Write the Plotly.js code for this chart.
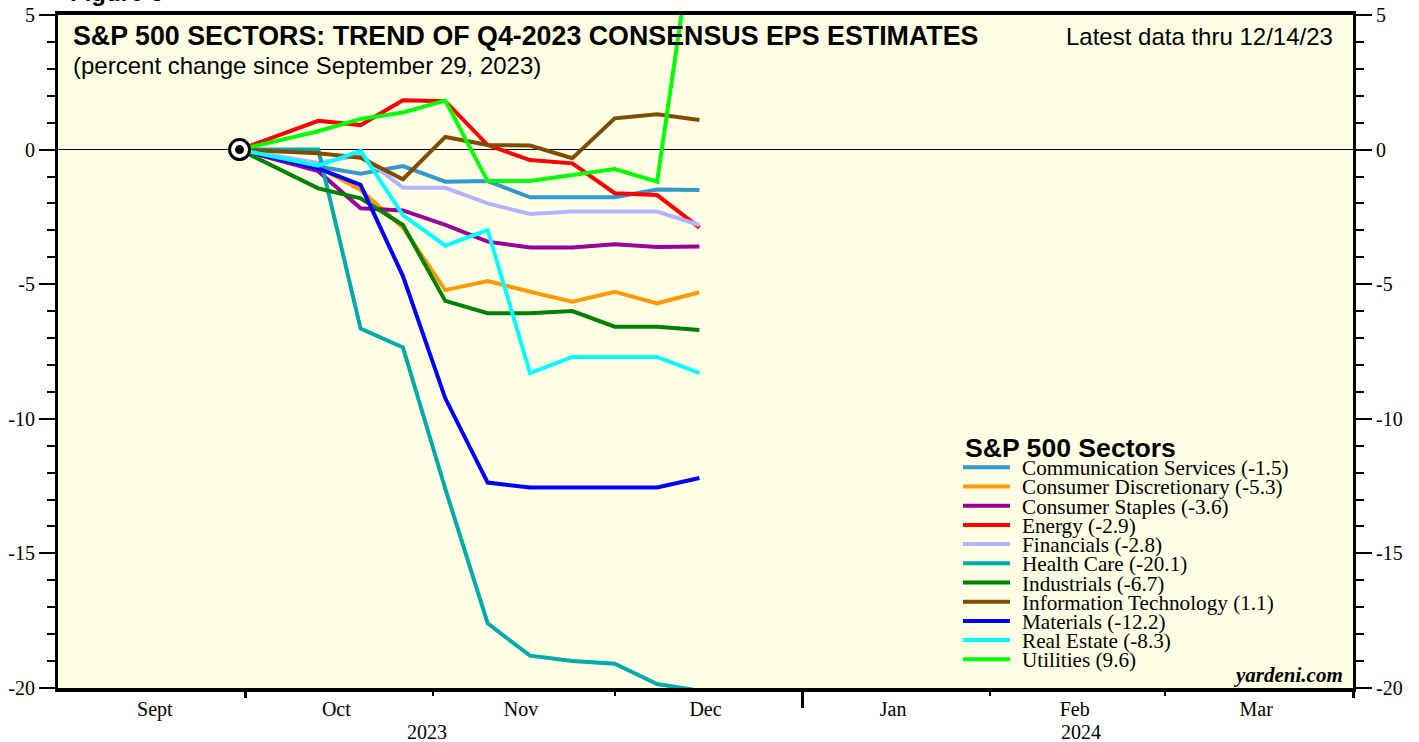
<!DOCTYPE html>
<html><head><meta charset="utf-8">
<script src="https://cdn.plot.ly/plotly-3.0.1.min.js"></script>
<style>html,body{margin:0;padding:0;background:#fff}#chart{width:1419px;height:742px}</style>
</head><body><div id="chart"></div>
<script>
// ---- data (percent change since Sep 29, 2023) ----
const dates = ['2023-09-30','2023-10-13','2023-10-20','2023-10-27','2023-11-03','2023-11-10','2023-11-17','2023-11-24','2023-12-01','2023-12-08','2023-12-15'];
const commServices  = [0, -0.63, -0.90, -0.61, -1.19, -1.17, -1.77, -1.77, -1.77, -1.48, -1.50];
const consDisc      = [0, -0.65, -1.50, -2.90, -5.22, -4.88, -5.28, -5.65, -5.28, -5.71, -5.30];
const consStaples   = [0, -0.80, -2.18, -2.26, -2.80, -3.42, -3.64, -3.64, -3.52, -3.62, -3.60];
const energy        = [0, 1.07, 0.91, 1.83, 1.80, 0.17, -0.39, -0.51, -1.62, -1.69, -2.90];
const financials    = [0, -0.50, -0.20, -1.42, -1.42, -2.00, -2.39, -2.30, -2.30, -2.30, -2.80];
const healthCare    = [0, 0.00, -6.65, -7.35, -12.60, -17.60, -18.80, -19.00, -19.10, -19.85, -20.10];
const industrials   = [0, -1.44, -1.81, -2.80, -5.62, -6.08, -6.08, -6.00, -6.58, -6.58, -6.70];
const infoTech      = [0, -0.14, -0.30, -1.10, 0.47, 0.17, 0.15, -0.32, 1.16, 1.31, 1.10];
const materials     = [0, -0.70, -1.31, -4.70, -9.24, -12.37, -12.55, -12.55, -12.55, -12.55, -12.20];
const realEstate    = [0, -0.60, -0.05, -2.43, -3.57, -2.99, -8.30, -7.70, -7.70, -7.70, -8.30];
const utilities     = [0, 0.68, 1.14, 1.38, 1.82, -1.17, -1.17, -0.94, -0.72, -1.19, 9.60];

const sectorNames = ['Communication Services','Consumer Discretionary','Consumer Staples','Energy','Financials','Health Care','Industrials','Information Technology','Materials','Real Estate','Utilities'];
const sectorValues = [commServices, consDisc, consStaples, energy, financials, healthCare, industrials, infoTech, materials, realEstate, utilities];
const sectorColors = ['#3399CC','#FF9900','#990099','#FF0000','#B3B3FF','#00AAAA','#008000','#7F4C00','#0000FF','#00FFFF','#00FF00'];

const baseDate = dates[0];
const baseValue = 0;

// ---- axis ticks / labels ----
const yTickVals = [-20, -15, -10, -5, 0, 5];
const yTickText = ['-20', '-15', '-10', '-5', '0', '5'];
const monthTickLabels = ['Sept','Oct','Nov','Dec','Jan','Feb','Mar'];
const monthLabelDates = ['2023-09-16','2023-10-16','2023-11-15 12:00','2023-12-16','2024-01-16','2024-02-15','2024-03-16'];
const yearLabels = ['2023','2024'];
const yearLabelDates = ['2023-10-31','2024-02-16'];
const monthStarts = ['2023-11-01','2023-12-01','2024-02-01','2024-03-01'];
const quarterStarts = ['2023-10-01','2024-04-01'];
const yearStarts = ['2024-01-01'];
const xRange = ['2023-08-31','2024-04-01'];
const yRange = [-20, 5];

// ---- layout helpers (pixel -> paper) ----
const W = 1419, H = 742, ML = 58, MR = 66, MT = 15, MB = 54;
const PW = W - ML - MR, PH = H - MT - MB;
const px = x => (x - ML) / PW;
const py = y => 1 - (y - MT) / PH;

const serif = 'Liberation Serif, Times New Roman, serif';
const sans = 'Liberation Sans, Arial, sans-serif';

// invisible anchors so the secondary axes (right y axis, extra tick rows) get drawn
const axisAnchor = (xa, ya) => ({type:'scatter', mode:'markers', x:[baseDate], y:[baseValue], xaxis:xa, yaxis:ya,
  marker:{opacity:0, size:1}, showlegend:false, hoverinfo:'skip'});
const traces = [axisAnchor('x','y2'), axisAnchor('x2','y'), axisAnchor('x3','y')];

sectorNames.forEach((n, i) => traces.push({
  type: 'scatter', mode: 'lines', x: dates, y: sectorValues[i], name: n,
  line: {color: sectorColors[i], width: 4}, showlegend: false, hoverinfo: 'skip'
}));
traces.push({type:'scatter', mode:'markers', x:[baseDate], y:[baseValue], showlegend:false, hoverinfo:'skip',
  marker:{size:20, color:'#FFFFFF', line:{color:'#000', width:3}}});
traces.push({type:'scatter', mode:'markers', x:[baseDate], y:[baseValue], showlegend:false, hoverinfo:'skip',
  marker:{size:9, color:'#000'}});

const annotations = [];
const shapes = [];
annotations.push({xref:'paper', yref:'paper', x:px(71), y:py(36), xanchor:'left', yanchor:'middle', showarrow:false,
  text:'<b>S&P 500 SECTORS: TREND OF Q4-2023 CONSENSUS EPS ESTIMATES</b>', font:{family:sans, size:26.8, color:'#000'}});
annotations.push({xref:'paper', yref:'paper', x:px(71), y:py(66), xanchor:'left', yanchor:'middle', showarrow:false,
  text:'(percent change since September 29, 2023)', font:{family:sans, size:24, color:'#000'}});
annotations.push({xref:'paper', yref:'paper', x:px(1335), y:py(36), xanchor:'right', yanchor:'middle', showarrow:false,
  text:'Latest data thru 12/14/23', font:{family:sans, size:24, color:'#000'}});
annotations.push({xref:'paper', yref:'paper', x:px(68), y:py(8), xanchor:'left', yanchor:'bottom', showarrow:false,
  text:'<b>Figure 6</b>', font:{family:sans, size:24, color:'#000'}});
annotations.push({xref:'paper', yref:'paper', x:px(1345), y:py(675), xanchor:'right', yanchor:'middle', showarrow:false,
  text:'<b><i>yardeni.com</i></b>', font:{family:serif, size:21, color:'#000'}});
annotations.push({xref:'paper', yref:'paper', x:px(963), y:py(448), xanchor:'left', yanchor:'middle', showarrow:false,
  text:'<b>S&P 500 Sectors</b>', font:{family:sans, size:26.6, color:'#000'}});
sectorNames.forEach((n, i) => {
  const yc = 467.3 + 19.2 * i;
  const last = sectorValues[i][sectorValues[i].length - 1];
  shapes.push({type:'line', xref:'paper', yref:'paper', x0:px(963), x1:px(1010), y0:py(yc), y1:py(yc),
    line:{color:sectorColors[i], width:4}});
  annotations.push({xref:'paper', yref:'paper', x:px(1020), y:py(yc + 1), xanchor:'left', yanchor:'middle', showarrow:false,
    text: n + ' (' + last.toFixed(1) + ')', font:{family:serif, size:21.2, color:'#000'}});
});
yearLabels.forEach((t, i) => {
  annotations.push({xref:'x', yref:'paper', x:yearLabelDates[i], y:py(732), xanchor:'center', yanchor:'middle', showarrow:false,
    text:t, font:{family:serif, size:20, color:'#000'}});
});

const yCommon = {range:yRange, tickmode:'array', tickvals:yTickVals, ticktext:yTickText, ticks:'outside', ticklen:16, tickwidth:2, tickcolor:'#000',
  showline:true, linewidth:3, linecolor:'#000', showgrid:false, zeroline:false,
  tickfont:{family:serif, size:20, color:'#000'},
  minor:{dtick:1, tick0:0, ticks:'outside', ticklen:8, tickwidth:2, tickcolor:'#000', showgrid:false}};

const layout = {
  width:W, height:H, margin:{l:ML, r:MR, t:MT, b:MB}, paper_bgcolor:'#FFFFFF', plot_bgcolor:'#FFFFE5',
  showlegend:false,
  xaxis:{type:'date', range:xRange, tickmode:'array', tickvals:monthLabelDates, ticktext:monthTickLabels, ticks:'',
    tickfont:{family:serif, size:20, color:'#000'}, showgrid:false, zeroline:false,
    showline:true, linewidth:4, linecolor:'#000', mirror:true,
    minor:{tickvals:monthStarts, ticks:'outside', ticklen:4, tickwidth:2, tickcolor:'#000', showgrid:false}},
  xaxis2:{type:'date', range:xRange, overlaying:'x', anchor:'y', side:'bottom', tickmode:'array', tickvals:quarterStarts, ticks:'outside',
    ticklen:9, tickwidth:3, tickcolor:'#000', showticklabels:false, showgrid:false, zeroline:false, showline:false},
  xaxis3:{type:'date', range:xRange, overlaying:'x', anchor:'y', side:'bottom', tickmode:'array', tickvals:yearStarts, ticks:'outside',
    ticklen:19, tickwidth:3, tickcolor:'#000', showticklabels:false, showgrid:false, zeroline:false, showline:false},
  yaxis:Object.assign({}, yCommon, {side:'left', zeroline:true, zerolinecolor:'#000', zerolinewidth:1}),
  yaxis2:Object.assign({}, yCommon, {side:'right', overlaying:'y', anchor:'x'}),
  annotations, shapes
};

Plotly.newPlot('chart', traces, layout, {displayModeBar:false, staticPlot:true});
</script></body></html>
